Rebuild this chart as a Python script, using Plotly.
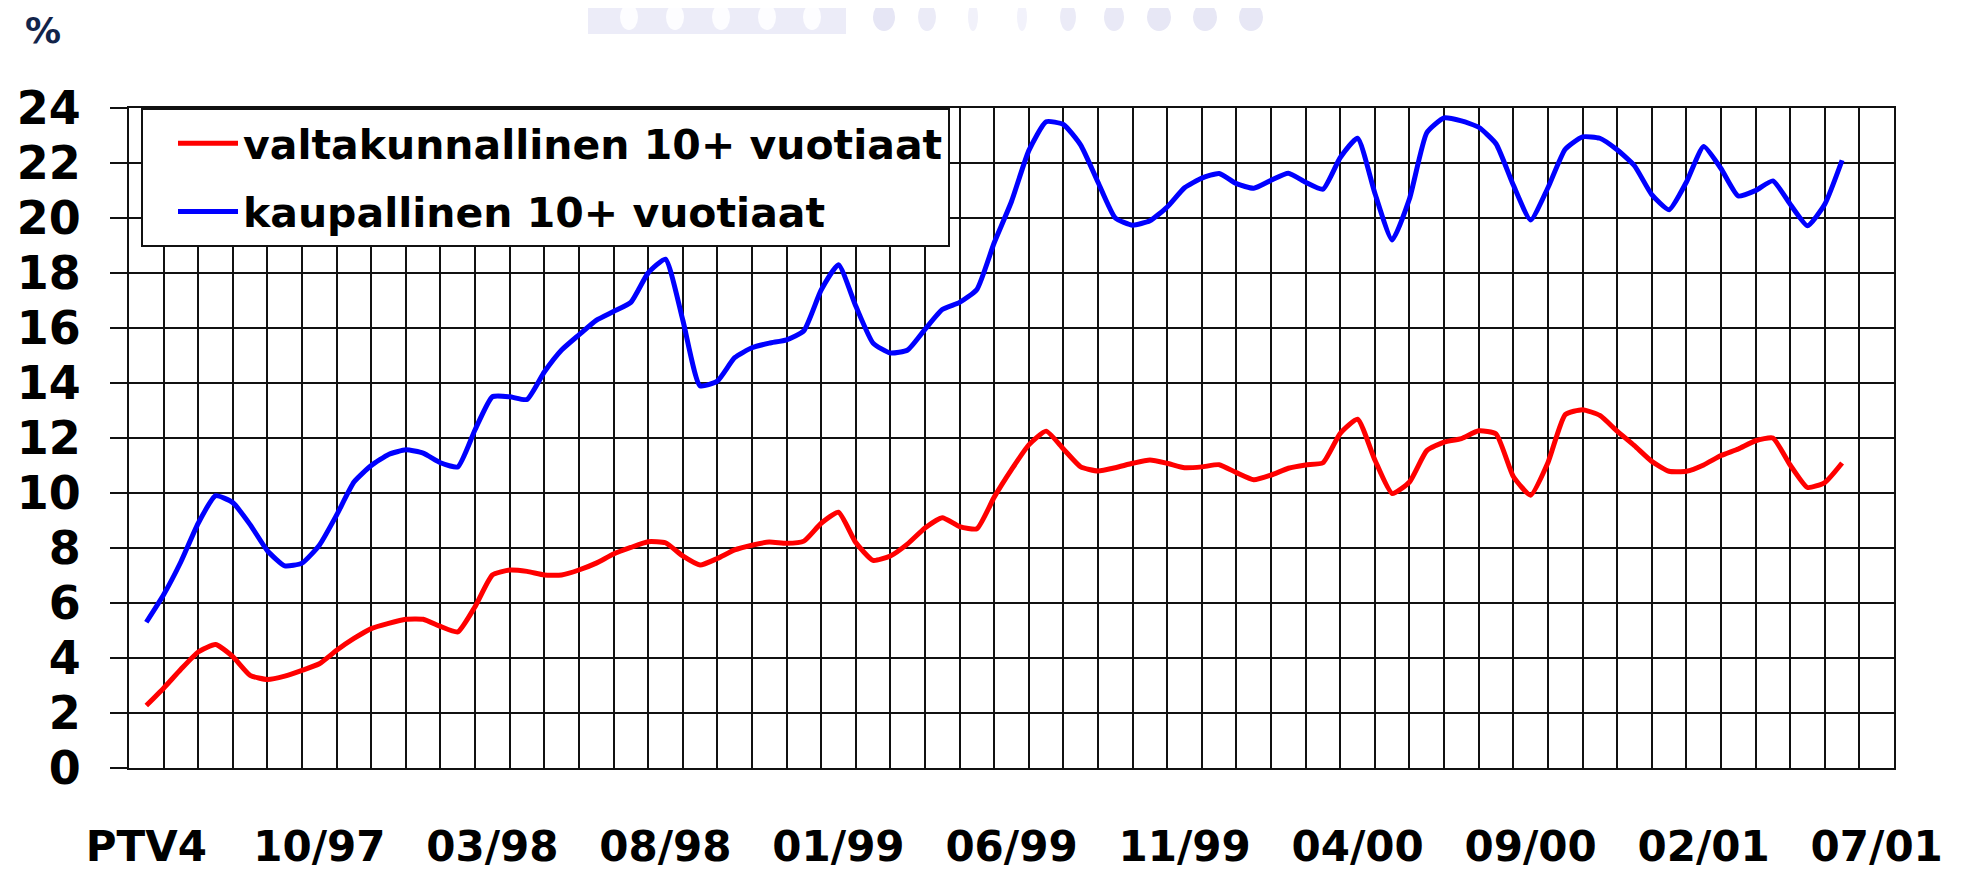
import plotly.graph_objects as go

# ---- data -------------------------------------------------------------
tick_labels = ["PTV4", "10/97", "03/98", "08/98", "01/99", "06/99",
               "11/99", "04/00", "09/00", "02/01", "07/01"]
tick_positions = [0, 5, 10, 15, 20, 25, 30, 35, 40, 45, 50]
n_categories = 51  # monthly slots PTV4 (05/97) ... 07/01

# half-month sampling positions (month index)
x_pos = [i / 2 for i in range(99)]

valtakunnallinen = [
    2.27, 2.9, 3.59, 4.22, 4.49, 4.05, 3.37, 3.22, 3.34, 3.55,
    3.79, 4.28, 4.71, 5.07, 5.26, 5.41, 5.41, 5.15, 4.95, 5.87,
    7.02, 7.2, 7.15, 7.02, 7.02, 7.2, 7.45, 7.78, 8.02, 8.23,
    8.19, 7.71, 7.38, 7.62, 7.93, 8.1, 8.22, 8.17, 8.25, 8.9,
    9.3, 8.2, 7.55, 7.71, 8.15, 8.73, 9.1, 8.78, 8.7, 9.85,
    10.85, 11.75, 12.25, 11.6, 10.95, 10.8, 10.92, 11.08, 11.2, 11.08,
    10.92, 10.95, 11.03, 10.74, 10.48, 10.65, 10.9, 11.02, 11.1, 12.17,
    12.68, 11.2, 9.98, 10.4, 11.54, 11.85, 11.98, 12.26, 12.15, 10.6,
    9.92, 11.1, 12.85, 13.03, 12.82, 12.25, 11.72, 11.15, 10.79, 10.79,
    11.02, 11.36, 11.6, 11.9, 12.0, 11.02, 10.2, 10.38, 11.09,
]

kaupallinen = [
    5.3, 6.3, 7.5, 8.9, 9.9, 9.65, 8.85, 7.9, 7.35, 7.45,
    8.1, 9.2, 10.4, 11.0, 11.4, 11.57, 11.45, 11.1, 10.95, 12.3,
    13.5, 13.5, 13.4, 14.4, 15.2, 15.75, 16.28, 16.6, 16.93, 18.0,
    18.5, 16.3, 13.9, 14.07, 14.92, 15.28, 15.45, 15.57, 15.9, 17.38,
    18.3, 16.8, 15.45, 15.09, 15.2, 15.95, 16.67, 16.93, 17.4, 19.1,
    20.6, 22.45, 23.5, 23.4, 22.65, 21.3, 20.0, 19.74, 19.9, 20.4,
    21.1, 21.45, 21.62, 21.25, 21.08, 21.37, 21.63, 21.3, 21.05, 22.2,
    22.9, 20.9, 19.2, 20.7, 23.1, 23.64, 23.53, 23.3, 22.7, 21.2,
    19.93, 21.1, 22.5, 22.95, 22.9, 22.48, 21.9, 20.85, 20.3, 21.3,
    22.6, 21.8, 20.8, 21.0, 21.35, 20.5, 19.72, 20.5, 22.1,
]

y_ticks = list(range(0, 25, 2))

# ---- figure -----------------------------------------------------------
# the page adds an 8 px body margin, so the figure is 8 px smaller
W, H = 1954, 863
L, R, T, B = 121, 68, 100, 103
FONT = "DejaVu Sans"

fig = go.Figure()
fig.add_trace(go.Scatter(
    x=x_pos, y=valtakunnallinen, mode="lines",
    name="valtakunnallinen 10+ vuotiaat", legendgroup="a",
    line=dict(color="#ff0000", width=5, shape="spline", smoothing=0.5),
))
fig.add_trace(go.Scatter(
    x=x_pos, y=kaupallinen, mode="lines",
    name="kaupallinen 10+ vuotiaat", legendgroup="b",
    line=dict(color="#0000ff", width=5, shape="spline", smoothing=0.5),
))

grid_col = "#111111"
fig.update_xaxes(
    range=[-0.5, n_categories - 0.5], automargin=False,
    tickmode="array", tickvals=tick_positions, ticktext=tick_labels,
    ticks="", showgrid=False, zeroline=False,
    showline=True, linecolor=grid_col, linewidth=2, mirror=True,
    minor=dict(tickmode="linear", tick0=-0.5, dtick=1, showgrid=True,
               gridcolor=grid_col, gridwidth=1.5, ticks=""),
    tickfont=dict(family=FONT, size=42, color="#000000", weight="bold"),
    ticklabelstandoff=41,
)
fig.update_yaxes(
    range=[0, 24], automargin=False, tickmode="array", tickvals=y_ticks,
    showgrid=True, gridcolor=grid_col, gridwidth=1.5, zeroline=False,
    showline=True, linecolor=grid_col, linewidth=2, mirror=True,
    ticks="outside", ticklen=17, tickwidth=2, tickcolor=grid_col,
    tickfont=dict(family=FONT, size=46, color="#000000", weight="bold"),
    ticklabelstandoff=20,
)

fig.update_layout(
    width=W, height=H,
    margin=dict(l=L, r=R, t=T, b=B, pad=0, autoexpand=False),
    paper_bgcolor="white", plot_bgcolor="white",
    showlegend=True,
    legend=dict(
        x=(133 - L) / (W - L - R), y=1.0, xanchor="left", yanchor="top",
        bgcolor="white", bordercolor="#111111", borderwidth=2,
        font=dict(family=FONT, size=41, color="#000000", weight="bold"),
        tracegroupgap=12, itemwidth=60, indentation=30,
        entrywidth=766, entrywidthmode="pixels",
    ),
)

# "%" unit label
pw, ph = W - L - R, H - T - B
def px(xp):
    return (xp - L) / pw
def py(yp):
    return (H - B - yp) / ph

fig.add_annotation(
    text="%", xref="paper", yref="paper",
    x=px(35), y=py(22),
    showarrow=False, xanchor="center", yanchor="middle",
    font=dict(family=FONT, size=36, color="#12244a", weight="bold"),
)

# faint decorative banner at the top (background picture of the slide)
shapes = []
shapes.append(dict(type="rect", xref="paper", yref="paper",
                   x0=px(580), x1=px(838), y0=py(26), y1=py(-8),
                   fillcolor="#ececf8", line=dict(width=0), layer="below"))
for cx in [621, 667, 713, 759, 804]:
    shapes.append(dict(type="circle", xref="paper", yref="paper",
                       x0=px(cx - 9), x1=px(cx + 9), y0=py(22), y1=py(-4),
                       fillcolor="#fdfdff", line=dict(width=0), layer="below"))
for cx, rw, col in [(876, 11, "#e6e6f5"), (919, 9, "#ebebf7"), (965, 5, "#f1f1fa"),
                    (1014, 5, "#f2f2fb"), (1060, 8, "#ebebf7"), (1106, 10, "#e9e9f6"),
                    (1151, 12, "#e7e7f5"), (1197, 12, "#e7e7f5"), (1243, 12, "#e7e7f5")]:
    shapes.append(dict(type="circle", xref="paper", yref="paper",
                       x0=px(cx - rw), x1=px(cx + rw), y0=py(23), y1=py(-5),
                       fillcolor=col, line=dict(width=0), layer="below"))
fig.update_layout(shapes=shapes)

fig.write_html("out.html")
